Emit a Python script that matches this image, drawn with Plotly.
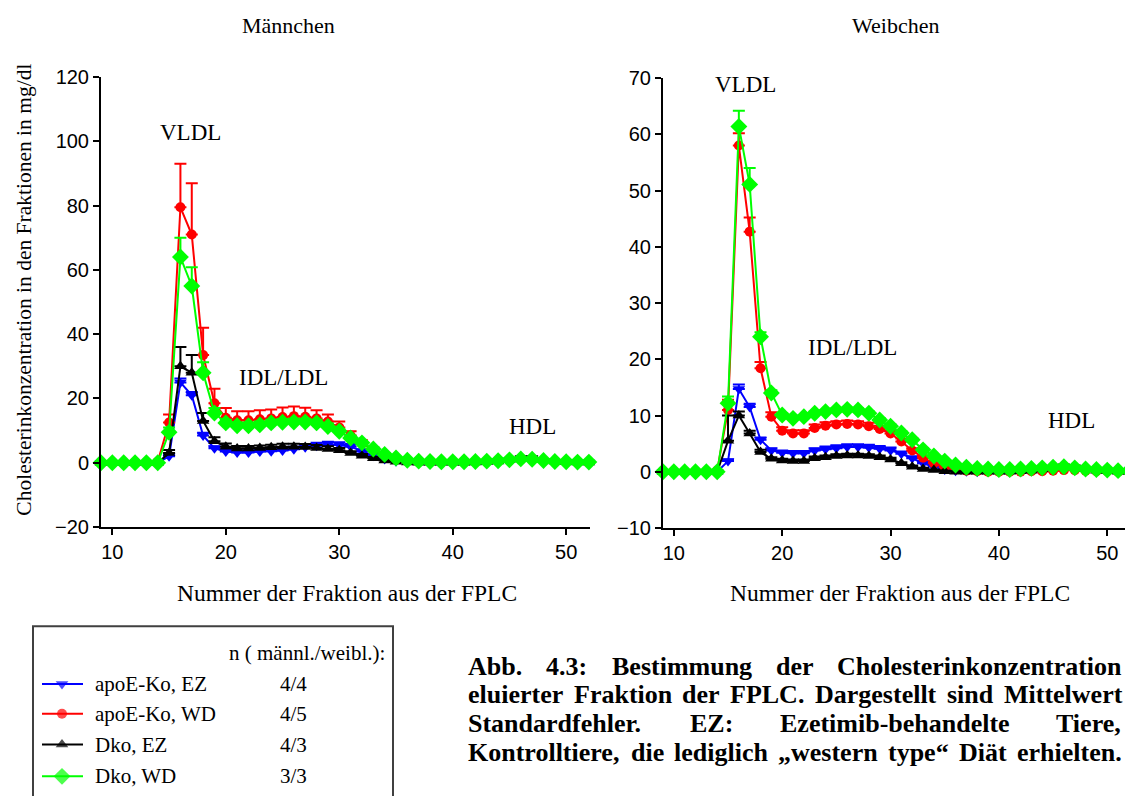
import plotly.graph_objects as go

W, H = 1133, 796

# mapping from target picture pixels to figure pixels (measured for this renderer)
X_SHIFT = 8.0
Y_OFF, Y_SCALE = 16.5, 0.979

fractions = list(range(9, 53))

series_names = ["apoE-Ko, EZ", "apoE-Ko, WD", "Dko, EZ", "Dko, WD"]
n_counts = ["4/4", "4/5", "4/3", "3/3"]
colors = ["#0000ff", "#ff0000", "#000000", "#00ff00"]
symbols = ["triangle-down", "circle", "triangle-up", "diamond"]
sizes = [11, 10, 11, 13]

# Männchen (mean, SEM)
m_apoE_EZ = [0, 0, 0, 0, 0, 0,
             2, 25, 21, 8.5, 4.5, 3.5, 3.2, 3.2, 3.5, 3.6, 3.8, 4.2, 4.8, 5.3, 5.6, 5.5, 5.0, 3.5, 2.2, 1.2, 0.5,
             0.2, 0.1, 0, 0, 0, 0.1, 0.2, 0.3, 0.5, 0.8, 1.0, 0.8, 0.5, 0.3, 0.2, 0.1, 0.1]
m_apoE_EZ_err = [0.1] * 6 + [0.5, 1.2, 1.0, 0.8, 0.6, 0.6, 0.6, 0.6, 0.6, 0.7, 0.7, 0.8, 0.8, 0.9, 0.9, 0.9, 0.8, 0.7, 0.5, 0.3, 0.2] + [0.1] * 17
m_apoE_WD = [0, 0, 0, 0, 0, 0.3,
             12.5, 79.5, 71, 33.5, 18.5, 14, 13.2, 13.2, 13.5, 13.8, 14.2, 14.5, 14.3, 13.8, 12.8, 11, 8.5, 6, 4, 2.5, 1.5,
             0.8, 0.5, 0.3, 0.2, 0.2, 0.2, 0.3, 0.4, 0.6, 0.9, 1.2, 1.0, 0.7, 0.4, 0.3, 0.2, 0.1]
m_apoE_WD_err = [0.1] * 6 + [2.5, 13.5, 16, 8.5, 4.5, 3, 2.8, 2.8, 2.8, 2.8, 3, 3, 2.8, 2.5, 2.2, 1.8, 1.3, 1, 0.7, 0.5, 0.3] + [0.2] * 17
m_Dko_EZ = [0, 0, 0, 0, 0, 0,
            3, 30, 28, 13, 6.7, 5, 4.4, 4.4, 4.6, 4.8, 5, 5, 4.9, 4.6, 4.3, 3.9, 3.0, 2.2, 1.4, 0.7, 0.3,
            0.1, 0, 0, 0, 0, 0, 0.1, 0.2, 0.4, 0.8, 1.8, 1.8, 0.8, 0.4, 0.2, 0.1, 0.1]
m_Dko_EZ_err = [0.1] * 6 + [1.0, 6.0, 5.5, 2.5, 1.2, 1.0, 0.8, 0.8, 0.8, 0.8, 0.9, 0.9, 0.9, 0.9, 0.8, 0.7, 0.6, 0.5, 0.4, 0.3, 0.2] + [0.2] * 17
m_Dko_WD = [0, 0, 0, 0, 0, 0,
            9.5, 64, 55, 28, 15.5, 12.4, 11.5, 11.5, 11.8, 12.4, 12.6, 12.7, 12.7, 12.4, 11.3, 9.8, 7.7, 6.2, 4.3, 2.6, 1.5,
            0.8, 0.5, 0.4, 0.3, 0.3, 0.3, 0.4, 0.5, 0.6, 0.9, 1.2, 1.1, 0.7, 0.4, 0.3, 0.2, 0.2]
m_Dko_WD_err = [0.1] * 6 + [1.5, 6, 5.8, 3.3, 1.5, 1.0, 1.0, 1.0, 1.0, 1.0, 1.0, 1.0, 1.0, 1.0, 0.9, 0.8, 0.7, 0.6, 0.5, 0.4, 0.3] + [0.2] * 17

# Weibchen (mean, SEM)
w_apoE_EZ = [0, 0, 0, 0, 0, 0,
             1.9, 14.7, 11.5, 5.7, 3.8, 3.4, 3.3, 3.3, 3.8, 4.0, 4.2, 4.4, 4.4, 4.3, 4.1, 3.8, 3.2, 2.4, 1.5, 0.9, 0.4,
             0.2, 0.1, 0, 0, 0, 0, 0.1, 0.2, 0.3, 0.5, 0.6, 0.5, 0.3, 0.2, 0.1, 0.1, 0.1]
w_apoE_EZ_err = [0.1] * 6 + [0.3, 0.8, 0.6, 0.4, 0.4, 0.4, 0.4, 0.4, 0.4, 0.5, 0.5, 0.5, 0.5, 0.5, 0.5, 0.5, 0.4, 0.3, 0.3, 0.2, 0.2] + [0.1] * 17
w_apoE_WD = [0, 0, 0, 0, 0, 0.2,
             11, 58, 42.7, 18.4, 9.8, 7.3, 6.8, 6.8, 7.8, 8.2, 8.4, 8.5, 8.4, 8.1, 7.6, 6.8, 5.4, 3.8, 2.5, 1.5, 0.8,
             0.4, 0.2, 0.1, 0, 0, 0, 0, 0.1, 0.1, 0.2, 0.3, 0.3, 0.2, 0.1, 0.1, 0, 0]
w_apoE_WD_err = [0.1] * 6 + [1.8, 2.2, 2.5, 1.1, 0.8, 0.6, 0.6, 0.6, 0.6, 0.6, 0.6, 0.6, 0.6, 0.6, 0.6, 0.5, 0.5, 0.4, 0.3, 0.2, 0.2] + [0.1] * 17
w_Dko_EZ = [0, 0, 0, 0, 0, 0,
            5.5, 10, 6.8, 3.5, 2.3, 2.0, 1.9, 1.9, 2.4, 2.6, 2.8, 2.9, 2.9, 2.8, 2.6, 2.2, 1.5, 0.9, 0.5, 0.3, 0.1,
            0, 0, 0, 0, 0, 0, 0.1, 0.2, 0.4, 0.8, 1.2, 1.0, 0.5, 0.2, 0.1, 0, 0]
w_Dko_EZ_err = [0.1] * 6 + [4.5, 0.7, 0.5, 0.4, 0.3, 0.3, 0.3, 0.3, 0.3, 0.3, 0.3, 0.3, 0.3, 0.3, 0.3, 0.3, 0.2, 0.2, 0.2, 0.1, 0.1] + [0.1] * 17
w_Dko_WD = [0, 0, 0, 0, 0, 0,
            12.2, 61.4, 51.1, 24, 14, 10.1, 9.5, 9.8, 10.4, 10.7, 11, 11.1, 11, 10.4, 9.2, 8.1, 6.9, 5.7, 3.9, 2.8, 1.9,
            1.2, 0.8, 0.6, 0.5, 0.4, 0.4, 0.5, 0.6, 0.7, 0.8, 0.9, 0.7, 0.5, 0.4, 0.3, 0.2, 0.2]
w_Dko_WD_err = [0.1] * 6 + [1.2, 2.8, 2.9, 0.8, 0.5, 0.3, 0.3, 0.3, 0.3, 0.3, 0.3, 0.3, 0.3, 0.3, 0.3, 0.3, 0.3, 0.3, 0.3, 0.2, 0.2] + [0.2] * 17

male = [(m_apoE_EZ, m_apoE_EZ_err), (m_apoE_WD, m_apoE_WD_err), (m_Dko_EZ, m_Dko_EZ_err), (m_Dko_WD, m_Dko_WD_err)]
female = [(w_apoE_EZ, w_apoE_EZ_err), (w_apoE_WD, w_apoE_WD_err), (w_Dko_EZ, w_Dko_EZ_err), (w_Dko_WD, w_Dko_WD_err)]

SERIF = "Liberation Serif"
SANS = "Liberation Sans"


def px(x):
    return (x - X_SHIFT) / W


def py(y):
    return 1 - ((y - Y_OFF) / Y_SCALE) / H


fig = go.Figure()

for data, xa, ya in [(male, "x", "y"), (female, "x2", "y2")]:
    for i, (vals, err) in enumerate(data):
        fig.add_trace(go.Scatter(
            x=fractions, y=vals, xaxis=xa, yaxis=ya,
            mode="lines+markers", name=series_names[i], showlegend=False,
            line=dict(color=colors[i], width=2),
            marker=dict(symbol=symbols[i], size=sizes[i], color=colors[i], line=dict(width=0)),
            error_y=dict(type="data", symmetric=False, array=err, arrayminus=[0] * len(err),
                         color=colors[i], thickness=2, width=6),
            cliponaxis=False,
        ))

# legend glyphs on a picture-pixel overlay axis
rows = [686, 716, 747, 779]
for i in range(4):
    fig.add_trace(go.Scatter(
        x=[42, 62, 83], y=[rows[i]] * 3, xaxis="x3", yaxis="y3",
        mode="lines+markers", showlegend=False, hoverinfo="skip",
        line=dict(color=colors[i], width=2),
        marker=dict(symbol=symbols[i], size=[0, sizes[i], 0], color=colors[i], line=dict(width=0)),
        cliponaxis=False,
    ))

axis_common = dict(showline=True, linecolor="black", linewidth=2, ticks="outside", ticklen=6,
                   tickwidth=2, tickcolor="black", showgrid=False, zeroline=False,
                   tickfont=dict(family=SANS, size=20, color="black"))

fig.update_layout(
    width=W, height=H, margin=dict(l=0, r=0, t=0, b=0), autosize=False,
    paper_bgcolor="white", plot_bgcolor="rgba(0,0,0,0)",
    showlegend=False,
    xaxis=dict(domain=[px(101), px(590)], range=[9, 52.1], tickvals=[10, 20, 30, 40, 50], anchor="y", **axis_common),
    yaxis=dict(domain=[py(528), py(75)], range=[-20, 120], dtick=20, anchor="x", **axis_common),
    xaxis2=dict(domain=[px(663), px(1130)], range=[9, 52.1], tickvals=[10, 20, 30, 40, 50], anchor="y2", **axis_common),
    yaxis2=dict(domain=[py(529), py(76)], range=[-10, 70], dtick=10, anchor="x2", **axis_common),
    xaxis3=dict(domain=[0, 1], range=[X_SHIFT, X_SHIFT + W], visible=False, anchor="y3"),
    yaxis3=dict(domain=[0, 1], range=[Y_OFF + Y_SCALE * H, Y_OFF], visible=False, anchor="x3"),
)

ann = []


def text(x, y, s, size=18, xanchor="center", bold=False, angle=0, family=SERIF):
    ann.append(dict(x=px(x), y=py(y), xref="paper", yref="paper", text=("<b>%s</b>" % s) if bold else s,
                    showarrow=False, xanchor=xanchor, yanchor="middle", textangle=angle,
                    font=dict(family=family, size=size, color="black")))


text(288, 23, "Männchen", 22)
text(895, 23, "Weibchen", 22)
text(24, 289, "Cholesterinkonzentration in den Fraktionen in mg/dl", 21.5, angle=-90)
text(347, 594, "Nummer der Fraktion aus der FPLC", 23.5)
text(900, 594, "Nummer der Fraktion aus der FPLC", 23.5)
text(190, 131, "VLDL", 23)
text(283, 377, "IDL/LDL", 23)
text(532, 427, "HDL", 23)
text(745, 82, "VLDL", 23)
text(852, 347, "IDL/LDL", 23)
text(1071, 421, "HDL", 23)

# legend box contents
text(227, 655, "n ( männl./weibl.):", 21, xanchor="left")
for i in range(4):
    text(93, rows[i], series_names[i], 21, xanchor="left")
    text(293, rows[i], n_counts[i], 21)

# caption: justified lines, words spread between the margins (Times-Bold advance widths)
TB = {" ": 250, "A": 722, "B": 667, "C": 722, "D": 722, "E": 667, "F": 611, "K": 778, "L": 667, "P": 611,
      "S": 556, "T": 667, "Z": 667, "a": 500, "b": 556, "c": 444, "d": 556, "e": 444, "f": 333, "g": 500,
      "h": 556, "i": 278, "k": 556, "l": 278, "m": 833, "n": 556, "o": 500, "p": 556, "r": 444, "s": 389,
      "t": 333, "u": 556, "w": 722, "y": 500, "z": 444, "ä": 500, ".": 250, ",": 250, ":": 333, "-": 333,
      "3": 500, "4": 500, "„": 500, "“": 500, "M": 944}
CAP_SIZE = 26
CAP_X0, CAP_X1 = 466, 1120
caption = [
    (668, "Abb. 4.3: Bestimmung der Cholesterinkonzentration"),
    (697, "eluierter Fraktion der FPLC. Dargestellt sind Mittelwert"),
    (726, "Standardfehler. EZ: Ezetimib-behandelte Tiere,"),
    (755, "Kontrolltiere, die lediglich „western type“ Diät erhielten."),
]
for y, line in caption:
    words = line.split(" ")
    widths = [sum(TB.get(c, 500) for c in w) * CAP_SIZE / 1000 for w in words]
    gap = (CAP_X1 - CAP_X0 - sum(widths)) / (len(words) - 1)
    x = CAP_X0
    for w, wd in zip(words, widths):
        text(x, y, w, CAP_SIZE, xanchor="left", bold=True)
        x += wd + gap

fig.update_layout(annotations=ann)
fig.add_shape(type="rect", xref="paper", yref="paper", x0=px(33), x1=px(393), y0=py(815), y1=py(628),
              line=dict(color="#404040", width=2), fillcolor="rgba(0,0,0,0)")

fig.write_html("out.html")
